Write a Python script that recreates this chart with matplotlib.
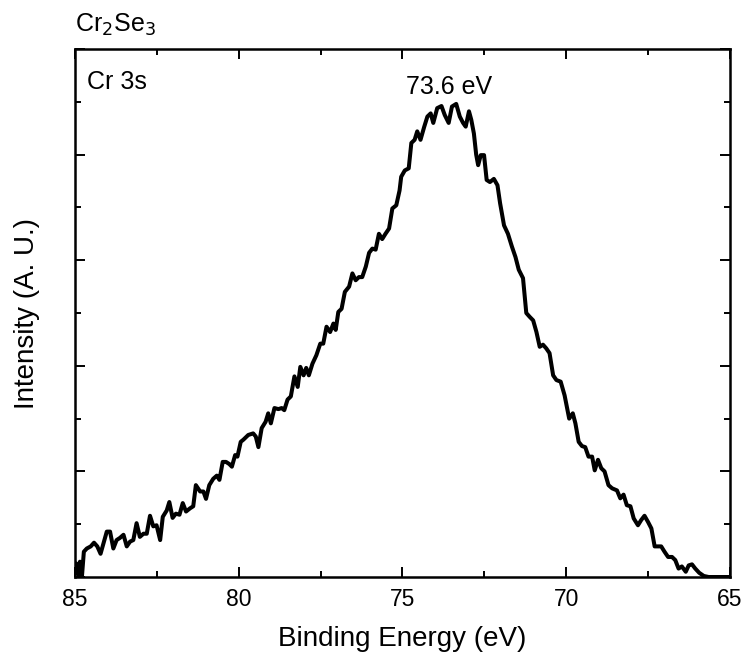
import matplotlib
matplotlib.use("Agg")
import matplotlib.pyplot as plt
from matplotlib.ticker import MultipleLocator, NullFormatter

plt.rcParams['font.family'] = ['Liberation Sans', 'DejaVu Sans']

energy = [
    84.97, 84.90, 84.85, 84.79, 84.73, 84.64, 84.52, 84.42, 84.32, 84.22,
    84.13, 84.03, 83.93, 83.83, 83.73, 83.63, 83.52, 83.42, 83.32, 83.22,
    83.12, 83.02, 82.91, 82.81, 82.71, 82.61, 82.51, 82.40, 82.32, 82.20,
    82.12, 82.02, 81.92, 81.81, 81.71, 81.61, 81.49, 81.39, 81.31, 81.18,
    81.08, 81.00, 80.90, 80.78, 80.67, 80.59, 80.49, 80.39, 80.29, 80.21,
    80.11, 80.04, 79.94, 79.86,
    79.71, 79.56, 79.48, 79.40, 79.30, 79.18, 79.10, 79.02, 78.91, 78.79,
    78.69, 78.61, 78.51, 78.41, 78.30, 78.20, 78.12, 78.02, 77.94, 77.86,
    77.75, 77.63, 77.51, 77.42, 77.32, 77.21, 77.11, 77.04, 76.96, 76.86,
    76.76, 76.63, 76.53, 76.43, 76.33, 76.23, 76.12, 76.02, 75.92, 75.82,
    75.72, 75.62, 75.52, 75.41, 75.31, 75.19, 75.09,
    75.04, 74.93, 74.81, 74.73, 74.63, 74.55, 74.45, 74.34, 74.24, 74.14,
    74.06, 73.94, 73.81, 73.71, 73.59, 73.49, 73.36, 73.25, 73.15, 73.07,
    72.97, 72.90, 72.82, 72.75, 72.69, 72.61, 72.51, 72.43, 72.33, 72.21,
    72.10, 72.02, 71.90, 71.78, 71.66, 71.55, 71.45, 71.32, 71.22, 71.12,
    71.01, 70.91, 70.81, 70.71, 70.61, 70.51, 70.40, 70.30, 70.17, 70.05,
    69.98, 69.91, 69.80, 69.72, 69.62, 69.52, 69.42, 69.32, 69.21, 69.13,
    69.03, 68.93, 68.83, 68.71, 68.60, 68.45, 68.35, 68.25, 68.15, 68.04,
    67.94, 67.81, 67.71, 67.61, 67.50, 67.40, 67.30, 67.20, 67.10, 67.00,
    66.89, 66.77, 66.67, 66.57, 66.47, 66.35, 66.26, 66.16, 66.06, 65.94,
    65.80, 65.65, 65.00,
]

intensity = [
    0.13, 0.02, 0.145, 0.00, 0.24, 0.27, 0.29, 0.325, 0.29, 0.22,
    0.32, 0.43, 0.43, 0.27, 0.35, 0.37, 0.40, 0.29, 0.335, 0.35,
    0.51, 0.38, 0.41, 0.41, 0.58, 0.48, 0.49, 0.35, 0.57, 0.63,
    0.71, 0.56, 0.60, 0.59, 0.70, 0.62, 0.65, 0.67, 0.87, 0.81,
    0.81, 0.74, 0.87, 0.93, 0.96, 0.92, 1.09, 1.09, 1.07, 1.045,
    1.155, 1.14, 1.28, 1.30,
    1.345, 1.36, 1.33, 1.23, 1.41, 1.47, 1.55, 1.455, 1.60, 1.59,
    1.60, 1.58, 1.68, 1.71, 1.90, 1.80, 1.99, 1.91, 1.98, 1.91,
    2.02, 2.10, 2.21, 2.21, 2.37, 2.32, 2.40, 2.34, 2.51, 2.54,
    2.70, 2.75, 2.875, 2.81, 2.84, 2.84, 2.94, 3.07, 3.11, 3.10,
    3.25, 3.20, 3.25, 3.30, 3.49, 3.52, 3.66,
    3.79, 3.85, 3.87, 4.11, 4.14, 4.22, 4.14, 4.26, 4.36, 4.39,
    4.30, 4.44, 4.46, 4.375, 4.30, 4.455, 4.48, 4.36, 4.30, 4.265,
    4.41, 4.33, 4.20, 4.00, 3.90, 3.995, 3.995, 3.76, 3.74, 3.77,
    3.71, 3.54, 3.33, 3.25, 3.13, 3.03, 2.91, 2.83, 2.50, 2.465,
    2.43, 2.32, 2.18, 2.20, 2.165, 2.12, 1.91, 1.865, 1.85, 1.72,
    1.61, 1.50, 1.55, 1.455, 1.28, 1.24, 1.23, 1.14, 1.14, 1.01,
    1.11, 1.03, 1.00, 0.87, 0.84, 0.82, 0.745, 0.78, 0.68, 0.67,
    0.555, 0.49, 0.54, 0.58, 0.52, 0.46, 0.29, 0.29, 0.29, 0.24,
    0.19, 0.19, 0.16, 0.08, 0.10, 0.05, 0.11, 0.12, 0.08, 0.04,
    0.01, 0.00, 0.00,
]

fig = plt.figure(figsize=(7.42, 6.56), dpi=100)
ax = fig.add_axes([0.1011, 0.1204, 0.8827, 0.8049])
ax.plot(energy, intensity, color='black', lw=2.9,
        solid_joinstyle='round', solid_capstyle='round')
ax.set_xlim(85, 65)
ax.set_ylim(0, 5)
ax.xaxis.set_major_locator(MultipleLocator(5))
ax.xaxis.set_minor_locator(MultipleLocator(2.5))
ax.yaxis.set_major_locator(MultipleLocator(1))
ax.yaxis.set_minor_locator(MultipleLocator(0.5))
ax.yaxis.set_major_formatter(NullFormatter())
ax.tick_params(which='both', direction='in', top=True, right=True, width=1.4)
ax.tick_params(which='major', length=7.5, labelsize=16.5, pad=8)
ax.tick_params(which='minor', length=4)
for s in ax.spines.values():
    s.set_linewidth(1.8)
ax.set_xlabel('Binding Energy (eV)', fontsize=20, labelpad=11)
ax.set_ylabel('Intensity (A. U.)', fontsize=20, labelpad=17)
ax.text(0.018, 0.96, 'Cr 3s', transform=ax.transAxes, fontsize=18, va='top', ha='left')
ax.text(73.58, 4.57, '73.6 eV', fontsize=18, ha='center', va='baseline')
fig.text(0.101, 0.952, r'Cr$_2$Se$_3$', fontsize=18, ha='left', va='baseline')
fig.savefig('out.png', dpi=100)
